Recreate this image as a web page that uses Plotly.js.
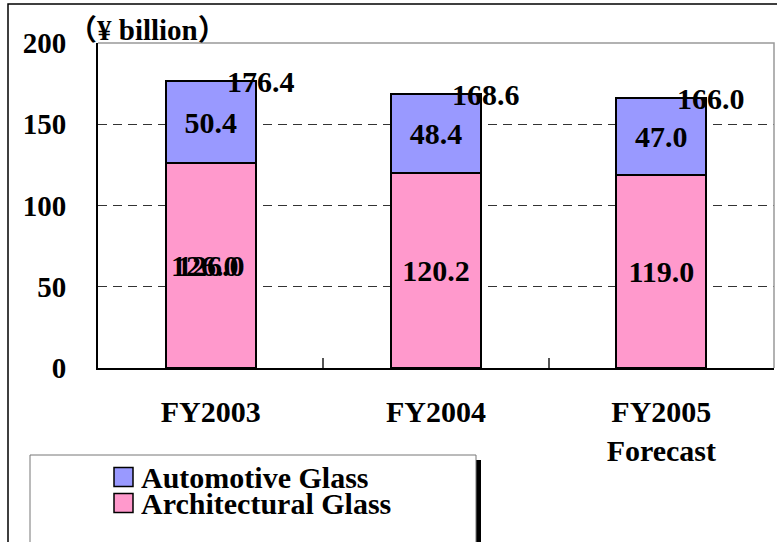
<!DOCTYPE html>
<html>
<head>
<meta charset="utf-8">
<script src="https://cdn.plot.ly/plotly-3.0.1.min.js"></script>
<style>
html,body{margin:0;padding:0;background:#fff;}
#chart{width:777px;height:542px;}
</style>
</head>
<body>
<div id="chart"></div>
<script>
// ---- data ----
const categories = ['FY2003', 'FY2004', 'FY2005'];
const tickLabels = ['FY2003', 'FY2004', 'FY2005<br>Forecast'];
const architectural = [126.0, 120.2, 119.0];
const automotive = [50.4, 48.4, 47.0];
const totals = [176.4, 168.6, 166.0];
const seriesNames = ['Architectural Glass', 'Automotive Glass'];
const seriesColors = ['#FF99CC', '#9999FF'];
const yTicks = [0, 50, 100, 150, 200];
const unitLabel = '（¥ billion）';

// ---- layout helpers (pixel -> paper) ----
const W = 777, H = 542;
const M = {l: 98, r: 3, t: 43, b: 174};
const PW = W - M.l - M.r, PH = H - M.t - M.b;
const xp = px => (px - M.l) / PW;
const yp = py => (H - M.b - py) / PH;

const FONT = "Liberation Serif, Noto Sans CJK JP, serif";
const bold = (size) => ({family: FONT, size: size, color: '#000', weight: 'bold'});
const FS = 30;

const traces = [
  {
    type: 'bar', x: categories, y: architectural, name: seriesNames[0],
    marker: {color: seriesColors[0], line: {color: '#000', width: 2}},
    texttemplate: '%{y:.1f}', textposition: 'inside', insidetextanchor: 'middle',
    constraintext: 'none', textangle: 0, textfont: bold(FS),
    hoverinfo: 'skip', showlegend: false
  },
  {
    type: 'bar', x: categories, y: automotive, name: seriesNames[1],
    marker: {color: seriesColors[1], line: {color: '#000', width: 2}},
    texttemplate: '%{y:.1f}', textposition: 'inside', insidetextanchor: 'middle',
    constraintext: 'none', textangle: 0, textfont: bold(FS),
    hoverinfo: 'skip', showlegend: false
  }
];

const annotations = [];
// totals beside bar tops
categories.forEach((c, i) => {
  annotations.push({
    x: c, y: totals[i], xref: 'x', yref: 'y', text: totals[i].toFixed(1),
    showarrow: false, xanchor: 'center', yanchor: 'middle', xshift: 50,
    font: bold(FS)
  });
});
// doubled label artifact seen on first bar
annotations.push({
  x: categories[0], y: architectural[0] / 2, xref: 'x', yref: 'y',
  text: architectural[0].toFixed(1), showarrow: false, xshift: -6,
  xanchor: 'center', yanchor: 'middle', font: bold(FS)
});
// unit label
annotations.push({
  x: xp(147), y: yp(30), xref: 'paper', yref: 'paper', text: unitLabel,
  showarrow: false, xanchor: 'center', yanchor: 'middle', font: bold(29)
});
// custom legend texts (top: automotive, bottom: architectural)
const legendRows = [{name: seriesNames[1], color: seriesColors[1], cy: 477},
                    {name: seriesNames[0], color: seriesColors[0], cy: 503}];
legendRows.forEach(r => {
  annotations.push({
    x: xp(139), y: yp(r.cy), xref: 'paper', yref: 'paper', text: r.name,
    showarrow: false, xanchor: 'left', yanchor: 'middle', height: 24, valign: 'middle',
    font: bold(FS)
  });
});

const shapes = [
  // outer frame
  {type: 'rect', xref: 'paper', yref: 'paper', x0: xp(8), x1: xp(820), y0: yp(620), y1: yp(4),
   line: {color: '#000', width: 1.5}, fillcolor: 'rgba(0,0,0,0)', layer: 'above'},
  // plot border top & right (gray)
  {type: 'path', xref: 'paper', yref: 'paper', path: 'M 0,1 L 1,1 L 1,0',
   line: {color: '#999', width: 1.5}, layer: 'above'},
  // legend shadow
  {type: 'rect', xref: 'paper', yref: 'paper', x0: xp(476), x1: xp(481), y0: yp(620), y1: yp(460),
   line: {width: 0}, fillcolor: '#000', layer: 'above'},
  // legend box
  {type: 'rect', xref: 'paper', yref: 'paper', x0: xp(30), x1: xp(476), y0: yp(620), y1: yp(455),
   line: {color: '#777', width: 1}, fillcolor: '#fff', layer: 'above'}
];
legendRows.forEach(r => {
  shapes.push({type: 'rect', xref: 'paper', yref: 'paper',
    x0: xp(114), x1: xp(133), y0: yp(r.cy + 9.5), y1: yp(r.cy - 9.5),
    line: {color: '#000', width: 1.5}, fillcolor: r.color, layer: 'above'});
});

const layout = {
  width: W, height: H,
  margin: M,
  paper_bgcolor: '#fff', plot_bgcolor: '#fff',
  barmode: 'stack', bargap: 0.6,
  showlegend: false,
  font: bold(FS),
  xaxis: {
    type: 'category', tickvals: categories, ticktext: tickLabels,
    tickson: 'boundaries', ticks: 'inside', ticklen: 10, tickwidth: 2, tickcolor: '#555',
    showline: true, linecolor: '#000', linewidth: 2,
    showgrid: false, zeroline: false, fixedrange: true,
    tickfont: bold(FS), ticklabelstandoff: 16
  },
  yaxis: {
    range: [0, 200], tickvals: yTicks, ticktext: yTicks.map(String),
    showline: true, linecolor: '#000', linewidth: 2,
    showgrid: true, gridcolor: '#333', gridwidth: 1, griddash: '9px,6px',
    zeroline: false, ticks: '', fixedrange: true,
    tickfont: bold(29), ticklabelstandoff: 24
  },
  annotations: annotations,
  shapes: shapes
};

Plotly.newPlot('chart', traces, layout, {displayModeBar: false, staticPlot: true});
</script>
</body>
</html>
